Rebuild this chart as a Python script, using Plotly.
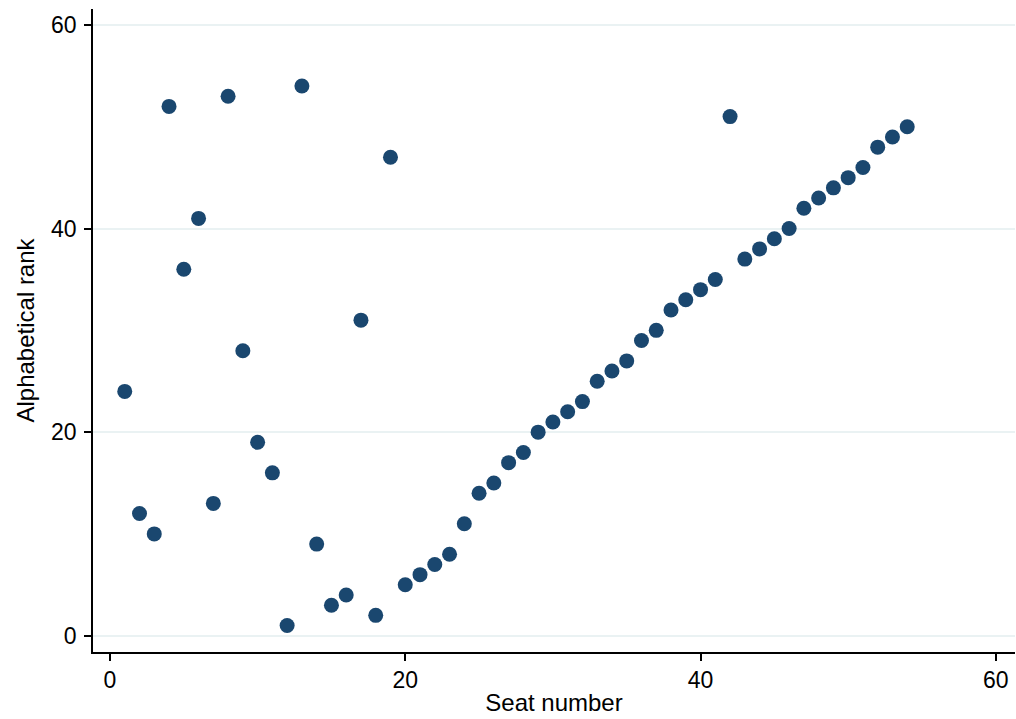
import plotly.graph_objects as go

seat = list(range(1, 55))
rank = [24, 12, 10, 52, 36, 41, 13, 53, 28, 19, 16, 1, 54, 9, 3, 4, 31, 2, 47,
        5, 6, 7, 8, 11, 14, 15, 17, 18, 20, 21, 22, 23, 25, 26, 27, 29, 30, 32,
        33, 34, 35, 51, 37, 38, 39, 40, 42, 43, 44, 45, 46, 48, 49, 50]
x_ticks = [0, 20, 40, 60]
y_ticks = [0, 20, 40, 60]

fig = go.Figure(go.Scatter(
    x=seat, y=rank, mode="markers",
    marker=dict(size=15, color="#1a476f", line=dict(width=0)),
))

fam = "Liberation Sans, Arial, sans-serif"
tickfont = dict(family=fam, size=23, color="black")
titlefont = dict(family=fam, size=24, color="black")
fig.update_layout(
    width=1016, height=719,
    margin=dict(l=93, r=1, t=9, b=67, autoexpand=False),
    paper_bgcolor="white", plot_bgcolor="white",
    font=dict(family=fam, size=24, color="black"), showlegend=False,
    xaxis=dict(range=[-1.15, 61.3], tickvals=x_ticks, showgrid=False, zeroline=False,
               showline=True, linecolor="black", linewidth=1.5,
               ticks="outside", ticklen=7, tickcolor="black", tickwidth=1.5,
               tickfont=tickfont, automargin=False,
               title=dict(text="Seat number", font=titlefont, standoff=2)),
    yaxis=dict(range=[-1.6, 61.57], tickvals=y_ticks, showgrid=True, gridcolor="#eaf2f3",
               gridwidth=1.5, zeroline=False,
               showline=True, linecolor="black", linewidth=1.5,
               ticks="outside", ticklen=7, tickcolor="black", tickwidth=1.5,
               tickfont=tickfont, automargin=False, ticklabelstandoff=3,
               title=dict(text="Alphabetical rank", font=titlefont, standoff=10)),
)
fig.write_html("out.html", config={"displayModeBar": False},
               post_script="document.body.style.margin='0';document.body.style.overflow='hidden';")
